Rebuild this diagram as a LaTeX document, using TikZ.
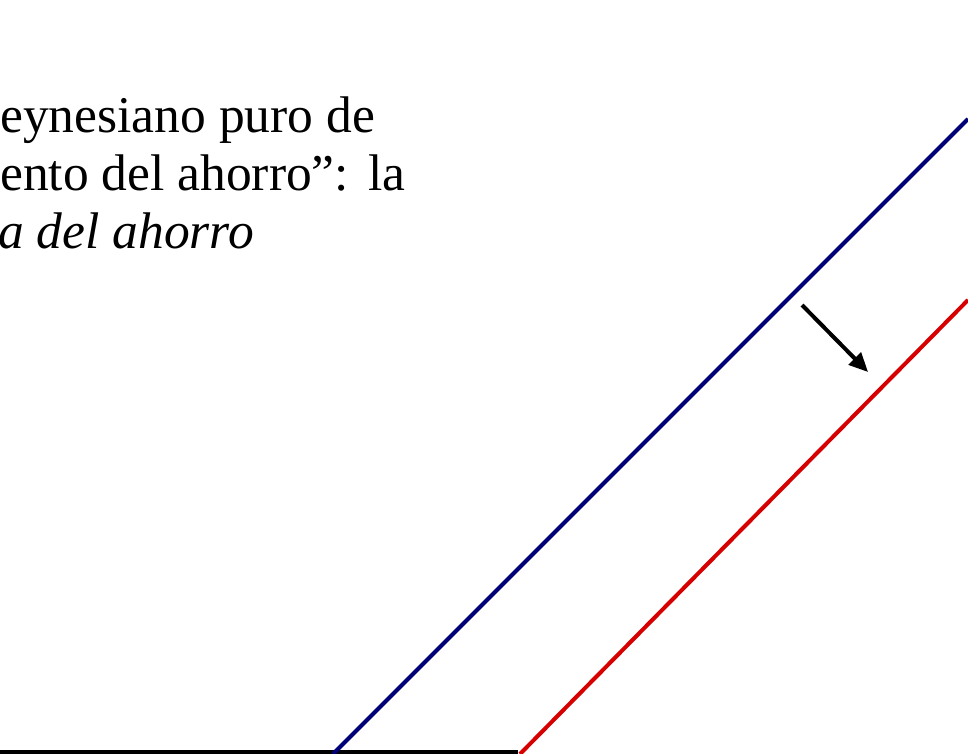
\documentclass[tikz,border=0pt]{standalone}
\usepackage{fontspec}
\setmainfont{Liberation Serif}
\usetikzlibrary{arrows.meta}
\definecolor{navyline}{RGB}{0,0,120}
\definecolor{redline}{RGB}{215,0,0}
\tikzset{
  txt/.style={font=\fontsize{51.5}{58}\selectfont, inner sep=0pt, anchor=base west},
  curve/.style={line width=4pt},
  axisline/.style={line width=3.8pt, black},
  shiftarrow/.style={line width=4pt, -{Triangle[length=19pt,width=17pt]}}
}
\begin{document}
\begin{tikzpicture}[x=1pt,y=-1pt]
\useasboundingbox (0,0) rectangle (968,754);
\node[txt] (l1) at (0,133) {eynesiano puro de};
\node[txt] (l2) at (0,190) {ento del ahorro”:\kern2pt{} la};
\node[txt] (l3) at (-2,248) {\itshape a del ahorro};
\coordinate (ax0) at (0,752);
\coordinate (ax1) at (518,752);
\coordinate (b0) at (333,754);
\coordinate (b1) at (968,119);
\coordinate (r0) at (520,754);
\coordinate (r1) at (968,300);
\coordinate (a0) at (802,305);
\coordinate (a1) at (868,372);
\draw[axisline] (ax0) -- (ax1);
\draw[curve, navyline] (b0) -- (b1);
\draw[curve, redline] (r0) -- (r1);
\draw[shiftarrow] (a0) -- (a1);
\end{tikzpicture}
\end{document}
